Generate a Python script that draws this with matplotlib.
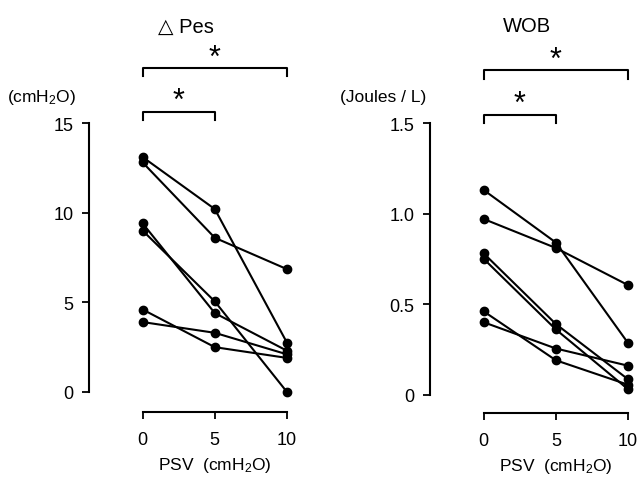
import matplotlib
matplotlib.use("Agg")
import matplotlib.pyplot as plt

plt.rcParams['font.family'] = ['Liberation Sans', 'DejaVu Sans']
plt.rcParams['mathtext.default'] = 'regular'

# PSV levels (cmH2O)
psv = [0, 5, 10]

# delta Pes per subject (cmH2O) at PSV 0, 5, 10
pes_s1 = [13.1, 10.2, 2.75]
pes_s2 = [12.8, 8.6, 6.85]
pes_s3 = [9.4, 4.4, 2.3]
pes_s4 = [9.0, 5.05, 0.0]
pes_s5 = [4.6, 2.5, 1.9]
pes_s6 = [3.9, 3.3, 2.1]

# WOB per subject (Joules/L) at PSV 0, 5, 10
wob_s1 = [1.13, 0.84, 0.285]
wob_s2 = [0.97, 0.81, 0.605]
wob_s3 = [0.78, 0.39, 0.085]
wob_s4 = [0.75, 0.36, 0.03]
wob_s5 = [0.46, 0.19, 0.055]
wob_s6 = [0.40, 0.255, 0.16]

pes_ticks = [0, 5, 10, 15]
pes_ticklabels = ['0', '5', '10', '15']
wob_ticks = [0, 0.5, 1.0, 1.5]
wob_ticklabels = ['0', '0.5', '1.0', '1.5']

fig = plt.figure(figsize=(6.4, 4.81), dpi=100)


def panel(rect, series, ylim, yticks, yticklabels, title, unit, brk):
    ax = fig.add_axes(rect)
    for s in series:
        ax.plot(psv, s, '-o', color='black', lw=1.5, ms=6, clip_on=False)
    ax.set_xlim(-3.72, 10.6)
    ax.set_ylim(*ylim)
    for side in ['top', 'right']:
        ax.spines[side].set_visible(False)
    ax.spines['left'].set_bounds(yticks[0], yticks[-1])
    ax.spines['bottom'].set_bounds(0, 10)
    ax.spines['left'].set_linewidth(1.5)
    ax.spines['bottom'].set_linewidth(1.5)
    ax.set_xticks(psv)
    ax.set_xticklabels(['0', '5', '10'])
    ax.set_yticks(yticks)
    ax.set_yticklabels(yticklabels)
    ax.tick_params(axis='both', direction='out', length=5, width=1.3,
                   labelsize=13, pad=6)
    ax.tick_params(axis='x', pad=9)

    xt = ax.get_xaxis_transform()
    # x label centred on PSV 5
    ax.text(5, -0.18, r'PSV  (cmH$_2$O)', transform=xt,
            ha='center', va='center', fontsize=12.5)
    # unit label above y axis
    ax.text(-0.227, 1.093, unit, transform=ax.transAxes,
            ha='center', va='center', fontsize=12.5)

    # significance brackets
    lo, hi, tick = brk
    ax.plot([0, 0, 5, 5], [lo - tick, lo, lo, lo - tick], color='black',
            lw=1.5, clip_on=False)
    ax.text(2.5, lo + 1.35 * tick, '*', ha='center', va='center', fontsize=22)
    ax.plot([0, 0, 10, 10], [hi - tick, hi, hi, hi - tick], color='black',
            lw=1.5, clip_on=False)
    ax.text(5, hi + 1.35 * tick, '*', ha='center', va='center', fontsize=22)

    ax.text(3.0, 1.335, title, transform=xt,
            ha='center', va='center', fontsize=14.5)
    return ax


panel([0.139, 0.1414, 0.3229, 0.6008],
      [pes_s1, pes_s2, pes_s3, pes_s4, pes_s5, pes_s6],
      (-1.115, 15), pes_ticks, pes_ticklabels,
      '\u25b3 Pes', r'(cmH$_2$O)', (15.6, 18.05, 0.45))

panel([0.6719, 0.1393, 0.323, 0.6029],
      [wob_s1, wob_s2, wob_s3, wob_s4, wob_s5, wob_s6],
      (-0.101, 1.5), wob_ticks, wob_ticklabels,
      'WOB', '(Joules / L)', (1.545, 1.79, 0.045))

fig.savefig('out.png', dpi=100)
